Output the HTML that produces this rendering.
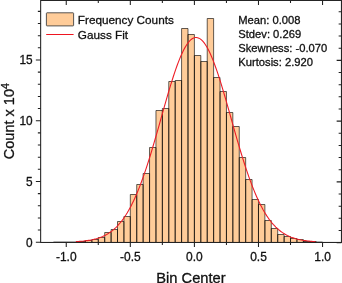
<!DOCTYPE html>
<html><head><meta charset="utf-8"><title>Histogram</title>
<style>html,body{margin:0;padding:0;background:#fff;overflow:hidden}.chart{width:342px;height:283px;will-change:transform;transform:translateZ(0)}svg text{font-family:"Liberation Sans",Arial,sans-serif;stroke:#111;stroke-width:0.3px;stroke-linejoin:round}</style></head>
<body>
<div class="chart">
<svg width="342" height="283" viewBox="0 0 342 283" style="display:block" font-family="'Liberation Sans', Arial, sans-serif" fill="#111">
<path fill="#FFCC99" d="M79.06 242.45V241.5H85.47V242.45ZM85.47 242.45V240.5H91.88V242.45ZM91.88 242.45V239.5H98.29V242.45ZM98.29 242.45V237.5H104.7V242.45ZM104.7 242.45V232.5H111.1V242.45ZM111.1 242.45V229.5H117.51V242.45ZM117.51 242.45V221.5H123.92V242.45ZM123.92 242.45V216.5H130.32V242.45ZM130.32 242.45V194.5H136.73V242.45ZM136.73 242.45V184.5H143.14V242.45ZM143.14 242.45V173.5H149.55V242.45ZM149.55 242.45V147.5H155.96V242.45ZM155.96 242.45V110.5H162.36V242.45ZM162.36 242.45V108.5H168.77V242.45ZM168.77 242.45V81.5H175.18V242.45ZM175.18 242.45V80.5H181.59V242.45ZM181.59 242.45V28.5H187.99V242.45ZM187.99 242.45V34.5H194.4V242.45ZM194.4 242.45V55.5H200.81V242.45ZM200.81 242.45V61.5H207.22V242.45ZM207.22 242.45V18.5H213.62V242.45ZM213.62 242.45V77.5H220.03V242.45ZM220.03 242.45V91.5H226.44V242.45ZM226.44 242.45V112.5H232.84V242.45ZM232.84 242.45V126.5H239.25V242.45ZM239.25 242.45V157.5H245.66V242.45ZM245.66 242.45V179.5H252.07V242.45ZM252.07 242.45V199.5H258.48V242.45ZM258.48 242.45V204.5H264.88V242.45ZM264.88 242.45V220.5H271.29V242.45ZM271.29 242.45V228.5H277.7V242.45ZM277.7 242.45V234.5H284.11V242.45ZM284.11 242.45V236.5H290.51V242.45ZM290.51 242.45V238.5H296.92V242.45ZM296.92 242.45V239.5H303.33V242.45ZM303.33 242.45V241.5H309.74V242.45ZM309.74 242.45V241.5H316.14V242.45Z"/>
<g fill="none" stroke="#000" stroke-opacity="0.62" stroke-width="1">
<path d="M79.06 242.45V241.5H85.47V242.45"/>
<path d="M85.47 242.45V240.5H91.88V242.45"/>
<path d="M91.88 242.45V239.5H98.29V242.45"/>
<path d="M98.29 242.45V237.5H104.7V242.45"/>
<path d="M104.7 242.45V232.5H111.1V242.45"/>
<path d="M111.1 242.45V229.5H117.51V242.45"/>
<path d="M117.51 242.45V221.5H123.92V242.45"/>
<path d="M123.92 242.45V216.5H130.32V242.45"/>
<path d="M130.32 242.45V194.5H136.73V242.45"/>
<path d="M136.73 242.45V184.5H143.14V242.45"/>
<path d="M143.14 242.45V173.5H149.55V242.45"/>
<path d="M149.55 242.45V147.5H155.96V242.45"/>
<path d="M155.96 242.45V110.5H162.36V242.45"/>
<path d="M162.36 242.45V108.5H168.77V242.45"/>
<path d="M168.77 242.45V81.5H175.18V242.45"/>
<path d="M175.18 242.45V80.5H181.59V242.45"/>
<path d="M181.59 242.45V28.5H187.99V242.45"/>
<path d="M187.99 242.45V34.5H194.4V242.45"/>
<path d="M194.4 242.45V55.5H200.81V242.45"/>
<path d="M200.81 242.45V61.5H207.22V242.45"/>
<path d="M207.22 242.45V18.5H213.62V242.45"/>
<path d="M213.62 242.45V77.5H220.03V242.45"/>
<path d="M220.03 242.45V91.5H226.44V242.45"/>
<path d="M226.44 242.45V112.5H232.84V242.45"/>
<path d="M232.84 242.45V126.5H239.25V242.45"/>
<path d="M239.25 242.45V157.5H245.66V242.45"/>
<path d="M245.66 242.45V179.5H252.07V242.45"/>
<path d="M252.07 242.45V199.5H258.48V242.45"/>
<path d="M258.48 242.45V204.5H264.88V242.45"/>
<path d="M264.88 242.45V220.5H271.29V242.45"/>
<path d="M271.29 242.45V228.5H277.7V242.45"/>
<path d="M277.7 242.45V234.5H284.11V242.45"/>
<path d="M284.11 242.45V236.5H290.51V242.45"/>
<path d="M290.51 242.45V238.5H296.92V242.45"/>
<path d="M296.92 242.45V239.5H303.33V242.45"/>
<path d="M303.33 242.45V241.5H309.74V242.45"/>
<path d="M309.74 242.45V241.5H316.14V242.45"/>
</g>
<path d="M53.43 241.75H85.47M303.33 241.75H322.55" stroke="#000" stroke-opacity="0.55" stroke-width="0.7" fill="none"/>
<polyline fill="none" stroke="#ee1c25" stroke-width="1.1" points="75.86,241.65 77.14,241.58 78.42,241.49 79.71,241.40 80.99,241.30 82.27,241.18 83.55,241.06 84.83,240.91 86.11,240.75 87.39,240.58 88.68,240.38 89.96,240.17 91.24,239.93 92.52,239.67 93.80,239.38 95.08,239.06 96.37,238.71 97.65,238.33 98.93,237.91 100.21,237.46 101.49,236.96 102.77,236.41 104.05,235.82 105.34,235.18 106.62,234.48 107.90,233.73 109.18,232.91 110.46,232.03 111.74,231.08 113.02,230.06 114.31,228.96 115.59,227.79 116.87,226.53 118.15,225.18 119.43,223.74 120.71,222.21 122.00,220.58 123.28,218.84 124.56,217.00 125.84,215.06 127.12,213.00 128.40,210.83 129.68,208.54 130.97,206.14 132.25,203.61 133.53,200.96 134.81,198.19 136.09,195.30 137.37,192.29 138.65,189.15 139.94,185.89 141.22,182.51 142.50,179.02 143.78,175.41 145.06,171.68 146.34,167.85 147.63,163.92 148.91,159.89 150.19,155.77 151.47,151.57 152.75,147.28 154.03,142.93 155.31,138.52 156.60,134.06 157.88,129.56 159.16,125.03 160.44,120.49 161.72,115.93 163.00,111.38 164.28,106.85 165.57,102.35 166.85,97.90 168.13,93.50 169.41,89.18 170.69,84.94 171.97,80.80 173.26,76.78 174.54,72.88 175.82,69.13 177.10,65.53 178.38,62.09 179.66,58.84 180.94,55.78 182.23,52.93 183.51,50.28 184.79,47.87 186.07,45.68 187.35,43.74 188.63,42.05 189.91,40.62 191.20,39.45 192.48,38.55 193.76,37.92 195.04,37.56 196.32,37.48 197.60,37.67 198.89,38.14 200.17,38.88 201.45,39.89 202.73,41.16 204.01,42.70 205.29,44.49 206.57,46.53 207.86,48.81 209.14,51.31 210.42,54.04 211.70,56.98 212.98,60.12 214.26,63.45 215.54,66.95 216.83,70.61 218.11,74.42 219.39,78.37 220.67,82.45 221.95,86.62 223.23,90.90 224.52,95.25 225.80,99.67 227.08,104.15 228.36,108.66 229.64,113.20 230.92,117.75 232.20,122.31 233.49,126.85 234.77,131.37 236.05,135.85 237.33,140.29 238.61,144.68 239.89,149.01 241.17,153.26 242.46,157.43 243.74,161.51 245.02,165.51 246.30,169.40 247.58,173.18 248.86,176.86 250.15,180.43 251.43,183.88 252.71,187.21 253.99,190.42 255.27,193.51 256.55,196.47 257.83,199.32 259.12,202.04 260.40,204.64 261.68,207.11 262.96,209.47 264.24,211.71 265.52,213.84 266.80,215.85 268.09,217.75 269.37,219.55 270.65,221.24 271.93,222.83 273.21,224.33 274.49,225.73 275.78,227.04 277.06,228.27 278.34,229.41 279.62,230.48 280.90,231.47 282.18,232.39 283.46,233.25 284.75,234.04 286.03,234.77 287.31,235.44 288.59,236.06 289.87,236.64 291.15,237.16 292.43,237.64 293.72,238.08 295.00,238.49 296.28,238.86 297.56,239.19 298.84,239.50 300.12,239.78 301.41,240.03 302.69,240.26 303.97,240.46 305.25,240.65 306.53,240.82 307.81,240.97 309.09,241.11 310.38,241.23 311.66,241.34 312.94,241.44 314.22,241.53 315.50,241.61"/>
<g stroke="#202020" stroke-width="1.05" fill="none">
<rect x="40.65" y="0.45" width="300.8" height="242.0"/>
<path d="M66.25 242.45v4.6M66.25 0.45v4.6"/>
<path d="M98.29 242.45v2.6M98.29 0.45v2.6"/>
<path d="M130.32 242.45v4.6M130.32 0.45v4.6"/>
<path d="M162.36 242.45v2.6M162.36 0.45v2.6"/>
<path d="M194.40 242.45v4.6M194.40 0.45v4.6"/>
<path d="M226.44 242.45v2.6M226.44 0.45v2.6"/>
<path d="M258.48 242.45v4.6M258.48 0.45v4.6"/>
<path d="M290.51 242.45v2.6M290.51 0.45v2.6"/>
<path d="M322.55 242.45v4.6M322.55 0.45v4.6"/>
<path d="M40.65 242.20h-4.8M341.45 242.60h-4.8"/>
<path d="M40.65 230.05h-2.8M341.45 230.45h-2.8"/>
<path d="M40.65 217.90h-2.8M341.45 218.30h-2.8"/>
<path d="M40.65 205.75h-2.8M341.45 206.15h-2.8"/>
<path d="M40.65 193.60h-2.8M341.45 194.00h-2.8"/>
<path d="M40.65 181.45h-4.8M341.45 181.85h-4.8"/>
<path d="M40.65 169.30h-2.8M341.45 169.70h-2.8"/>
<path d="M40.65 157.15h-2.8M341.45 157.55h-2.8"/>
<path d="M40.65 145.00h-2.8M341.45 145.40h-2.8"/>
<path d="M40.65 132.85h-2.8M341.45 133.25h-2.8"/>
<path d="M40.65 120.70h-4.8M341.45 121.10h-4.8"/>
<path d="M40.65 108.55h-2.8M341.45 108.95h-2.8"/>
<path d="M40.65 96.40h-2.8M341.45 96.80h-2.8"/>
<path d="M40.65 84.25h-2.8M341.45 84.65h-2.8"/>
<path d="M40.65 72.10h-2.8M341.45 72.50h-2.8"/>
<path d="M40.65 59.95h-4.8M341.45 60.35h-4.8"/>
<path d="M40.65 47.80h-2.8M341.45 48.20h-2.8"/>
<path d="M40.65 35.65h-2.8M341.45 36.05h-2.8"/>
<path d="M40.65 23.50h-2.8M341.45 23.90h-2.8"/>
<path d="M40.65 11.35h-2.8M341.45 11.75h-2.8"/>
</g>
<g font-size="12px" text-anchor="middle">
<text x="66.25" y="260.6">-1.0</text>
<text x="130.32" y="260.6">-0.5</text>
<text x="194.40" y="260.6">0.0</text>
<text x="258.48" y="260.6">0.5</text>
<text x="322.55" y="260.6">1.0</text>
</g>
<g font-size="11.85px" text-anchor="end">
<text x="32.7" y="246.50">0</text>
<text x="32.7" y="185.75">5</text>
<text x="32.7" y="125.00">10</text>
<text x="32.7" y="64.25">15</text>
</g>
<text x="190.95" y="282.9" font-size="14.7px" text-anchor="middle">Bin Center</text>
<text transform="translate(14.4,121.2) rotate(-90)" font-size="14.5px" text-anchor="middle">Count x 10<tspan font-size="10.5px" dy="-5.7">4</tspan></text>
<rect x="46.4" y="12.8" width="27.2" height="13.1" rx="0.6" fill="#FFCC99" stroke="#444" stroke-width="0.9"/>
<path d="M46.2 34.5H73.6" stroke="#ee1520" stroke-width="1.05"/>
<g font-size="11.2px">
<text x="77.8" y="23.5" font-size="11.75px">Frequency Counts</text>
<text x="77.8" y="38.8" font-size="11.75px">Gauss Fit</text>
<text x="238.3" y="24.1">Mean: 0.008</text>
<text x="238.3" y="38.1">Stdev: 0.269</text>
<text x="238.3" y="52.1">Skewness: -0.070</text>
<text x="238.3" y="66">Kurtosis: 2.920</text>
</g>
</svg>
</div>
</body></html>
